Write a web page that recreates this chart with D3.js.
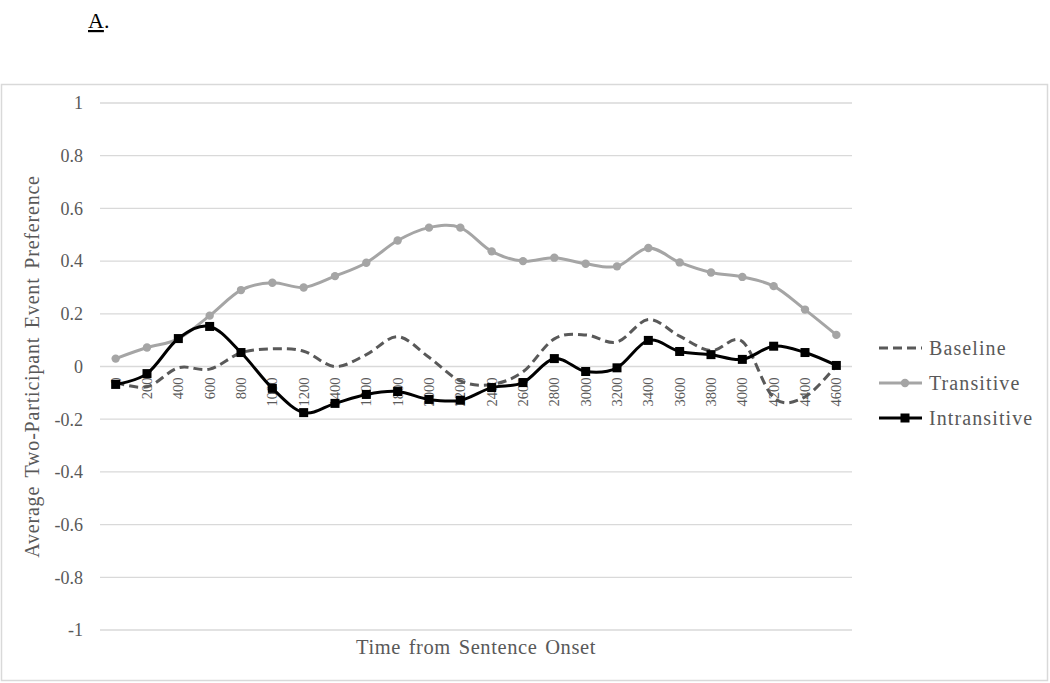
<!DOCTYPE html>
<head>
<meta charset="utf-8">
<style>
body { margin: 0; background: #fff; }
svg text { font-family: "Liberation Serif", "Times New Roman", serif; fill: #595959; }
.grid line { stroke: #d9d9d9; stroke-width: 1.3; }
</style>
</head>
<body>
<svg width="1050" height="683"></svg>
<script src="https://d3js.org/d3.v7.min.js"></script>
<script>
// categories along x (ms from sentence onset)
var times = [0, 200, 400, 600, 800, 1000, 1200, 1400, 1600, 1800, 2000, 2200,
             2400, 2600, 2800, 3000, 3200, 3400, 3600, 3800, 4000, 4200, 4400, 4600];

var baseline = [-0.06, -0.077, -0.005, -0.01, 0.052, 0.067, 0.058, 0.0, 0.045, 0.113, 0.035, -0.055,
                -0.068, -0.02, 0.105, 0.12, 0.093, 0.178, 0.115, 0.06, 0.095, -0.118, -0.115, 0.004];
var transitive = [0.03, 0.072, 0.105, 0.193, 0.29, 0.318, 0.30, 0.343, 0.394, 0.478, 0.527, 0.527,
                  0.437, 0.40, 0.413, 0.39, 0.38, 0.45, 0.395, 0.357, 0.34, 0.305, 0.216, 0.12];
var intransitive = [-0.068, -0.027, 0.106, 0.152, 0.053, -0.083, -0.175, -0.14, -0.106, -0.095, -0.125, -0.128,
                    -0.08, -0.061, 0.03, -0.019, -0.005, 0.099, 0.057, 0.045, 0.027, 0.077, 0.053, 0.004];

var yTicks = [-1, -0.8, -0.6, -0.4, -0.2, 0, 0.2, 0.4, 0.6, 0.8, 1];

var series = [
  {name: "Baseline", values: baseline, color: "#595959", dash: "9,5", marker: null},
  {name: "Transitive", values: transitive, color: "#a5a5a5", dash: null, marker: "circle"},
  {name: "Intransitive", values: intransitive, color: "#000000", dash: null, marker: "square"}
];

var svg = d3.select("svg");

// panel label
svg.append("text")
    .attr("x", 88).attr("y", 28)
    .style("font-size", "22px").style("fill", "#000")
    .style("text-decoration", "underline")
    .text("A");
svg.append("text")
    .attr("x", 104).attr("y", 28)
    .style("font-size", "22px").style("fill", "#000")
    .text(".");

// chart border
svg.append("rect")
    .attr("x", 1.5).attr("y", 84.5)
    .attr("width", 1046).attr("height", 596)
    .attr("fill", "none").attr("stroke", "#d9d9d9").attr("stroke-width", 1.5);

var x = d3.scalePoint()
    .domain(times)
    .range([100, 852])
    .padding(0.5);

var y = d3.scaleLinear()
    .domain([-1, 1])
    .range([630, 103]);

// gridlines
svg.append("g")
    .attr("class", "grid")
  .selectAll("line")
  .data(yTicks)
  .enter().append("line")
    .attr("x1", 100).attr("x2", 852)
    .attr("y1", function(d) { return y(d); })
    .attr("y2", function(d) { return y(d); });

// y tick labels
svg.append("g")
  .selectAll("text")
  .data(yTicks)
  .enter().append("text")
    .attr("x", 83)
    .attr("y", function(d) { return y(d); })
    .attr("dy", "0.35em")
    .style("text-anchor", "end")
    .style("font-size", "18px")
    .text(function(d) { return d; });

// x tick labels, rotated, hanging just below zero
svg.append("g")
  .selectAll("text")
  .data(times)
  .enter().append("text")
    .attr("transform", function(d) { return "translate(" + x(d) + "," + (y(0) + 11) + ") rotate(-90)"; })
    .attr("dy", "0.35em")
    .style("text-anchor", "end")
    .style("font-size", "14.5px")
    .text(function(d) { return d; });

// axis titles
svg.append("text")
    .attr("transform", "translate(39," + y(0) + ") rotate(-90)")
    .style("text-anchor", "middle")
    .style("font-size", "20px")
    .style("letter-spacing", "0.8px")
    .style("word-spacing", "3px")
    .text("Average Two-Participant Event Preference");

svg.append("text")
    .attr("x", 476).attr("y", 654)
    .style("text-anchor", "middle")
    .style("font-size", "20.5px")
    .style("letter-spacing", "0.6px")
    .style("word-spacing", "2px")
    .text("Time from Sentence Onset");

var line = d3.line()
    .x(function(d, i) { return x(times[i]); })
    .y(function(d) { return y(d); })
    .curve(d3.curveCatmullRom.alpha(0));

series.forEach(function(s) {
  svg.append("path")
      .datum(s.values)
      .attr("fill", "none")
      .attr("stroke", s.color)
      .attr("stroke-width", 3)
      .attr("stroke-dasharray", s.dash)
      .attr("d", line);

  if (s.marker === "circle") {
    svg.append("g").selectAll("circle")
      .data(s.values)
      .enter().append("circle")
        .attr("cx", function(d, i) { return x(times[i]); })
        .attr("cy", function(d) { return y(d); })
        .attr("r", 4.2)
        .attr("fill", s.color);
  } else if (s.marker === "square") {
    svg.append("g").selectAll("rect")
      .data(s.values)
      .enter().append("rect")
        .attr("x", function(d, i) { return x(times[i]) - 4.5; })
        .attr("y", function(d) { return y(d) - 4.5; })
        .attr("width", 9).attr("height", 9)
        .attr("fill", s.color);
  }
});

// legend
var legend = svg.append("g")
  .selectAll("g")
  .data(series)
  .enter().append("g")
    .attr("transform", function(d, i) { return "translate(879," + (348 + i * 35) + ")"; });

legend.append("line")
    .attr("x1", 0).attr("x2", 43)
    .attr("stroke", function(d) { return d.color; })
    .attr("stroke-width", 3)
    .attr("stroke-dasharray", function(d) { return d.dash; });

legend.filter(function(d) { return d.marker === "circle"; })
  .append("circle")
    .attr("cx", 26).attr("r", 4.2)
    .attr("fill", function(d) { return d.color; });

legend.filter(function(d) { return d.marker === "square"; })
  .append("rect")
    .attr("x", 21.5).attr("y", -4.5).attr("width", 9).attr("height", 9)
    .attr("fill", function(d) { return d.color; });

legend.append("text")
    .attr("x", 50)
    .attr("dy", "0.35em")
    .style("font-size", "20px")
    .style("letter-spacing", "1.1px")
    .text(function(d) { return d.name; });
</script>
</body>
